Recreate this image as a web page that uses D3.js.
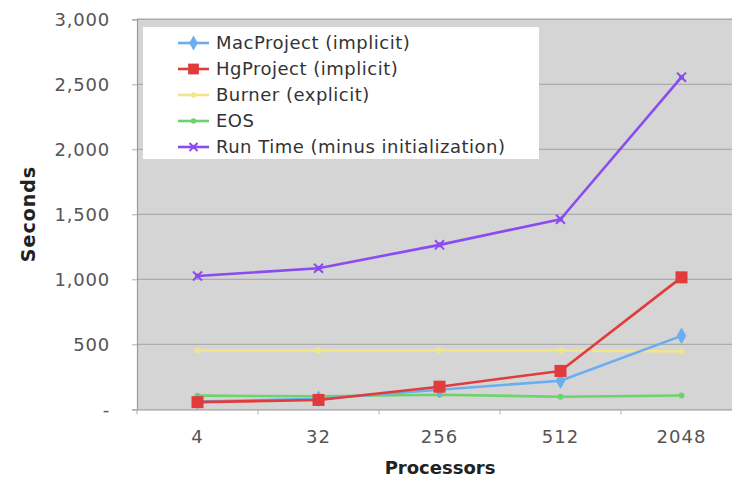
<!DOCTYPE html>
<html>
<head>
<meta charset="utf-8">
<script src="https://cdn.jsdelivr.net/npm/d3@7"></script>
<style>
  html, body { margin: 0; padding: 0; background: #fff; }
  svg { display: block; font-family: "DejaVu Sans", Verdana, sans-serif; }
</style>
</head>
<body>
<svg id="chart" width="732" height="480"></svg>
<script>
// Processor counts on the x axis
const processors = ["4", "32", "256", "512", "2048"];

// Seconds per component
const macProject = [60, 80, 150, 220, 565];
const hgProject = [55, 72, 174, 295, 1015];
const burner = [452, 452, 452, 452, 445];
const eos = [105, 100, 112, 97, 106];
const runTime = [1025, 1085, 1265, 1462, 2555];

const seriesNames = [
  "MacProject (implicit)",
  "HgProject (implicit)",
  "Burner (explicit)",
  "EOS",
  "Run Time (minus initialization)"
];
const seriesColors = ["#6aaef2", "#e23b3b", "#f3e48a", "#6cd46c", "#8a4bf0"];
const seriesMarkers = ["diamond", "square", "dot", "dot", "star"];
const seriesValues = [macProject, hgProject, burner, eos, runTime];

const yTicks = [0, 500, 1000, 1500, 2000, 2500, 3000];

const svg = d3.select("#chart");
const plot = { left: 137, top: 19.3, right: 742, bottom: 409.3 };

const x = d3.scaleBand().domain(processors).range([plot.left, plot.right]);
const y = d3.scaleLinear().domain([0, 3000]).range([plot.bottom, plot.top]);

// Plot background
svg.append("rect")
  .attr("x", plot.left).attr("y", plot.top - 1)
  .attr("width", plot.right - plot.left).attr("height", plot.bottom - plot.top + 1)
  .attr("fill", "#d5d5d5");

// Horizontal gridlines
svg.append("g")
  .selectAll("line")
  .data(yTicks.filter(d => d > 0))
  .join("line")
  .attr("x1", plot.left).attr("x2", plot.right)
  .attr("y1", d => y(d)).attr("y2", d => y(d))
  .attr("stroke", "#acacac").attr("stroke-width", 1.2);

// Y axis
const fmt = d => d === 0 ? "-" : d3.format(",")(d);
const yAxis = svg.append("g")
  .attr("transform", `translate(${plot.left},0)`)
  .call(d3.axisLeft(y).tickValues(yTicks).tickFormat(fmt).tickSize(5).tickPadding(22));
yAxis.select(".domain").attr("stroke", "#9a9a9a").attr("stroke-width", 1.2);
yAxis.selectAll(".tick line").attr("stroke", "#b0b0b0");
yAxis.selectAll(".tick text")
  .attr("fill", "#555").attr("font-size", 18).attr("letter-spacing", 0.8)
  .attr("font-family", "DejaVu Sans, Verdana, sans-serif");

// X axis with ticks on the band boundaries
const xAxis = svg.append("g")
  .attr("transform", `translate(0,${plot.bottom})`)
  .call(d3.axisBottom(x).tickSize(0).tickPadding(21));
xAxis.select(".domain").attr("stroke", "#9a9a9a").attr("stroke-width", 1.2);
xAxis.selectAll(".tick text")
  .attr("fill", "#555").attr("font-size", 18).attr("letter-spacing", 1)
  .attr("font-family", "DejaVu Sans, Verdana, sans-serif");
svg.append("g")
  .selectAll("line")
  .data(processors)
  .join("line")
  .attr("x1", d => x(d)).attr("x2", d => x(d))
  .attr("y1", plot.bottom).attr("y2", plot.bottom + 5)
  .attr("stroke", "#b0b0b0");

// Axis titles
svg.append("text")
  .attr("x", 440).attr("y", 474)
  .attr("text-anchor", "middle")
  .attr("font-size", 18).attr("font-weight", "bold").attr("fill", "#222")
  .text("Processors");
svg.append("text")
  .attr("transform", "translate(35,214) rotate(-90)")
  .attr("text-anchor", "middle")
  .attr("font-size", 19).attr("font-weight", "bold").attr("fill", "#222")
  .attr("letter-spacing", 1)
  .text("Seconds");

// Marker drawing
function drawMarker(g, type, color, cx, cy, scale) {
  const s = scale || 1;
  if (type === "square") {
    g.append("rect")
      .attr("x", cx - 6 * s).attr("y", cy - 6 * s)
      .attr("width", 12 * s).attr("height", 12 * s)
      .attr("fill", color);
  } else if (type === "diamond") {
    g.append("path")
      .attr("d", d3.symbol(d3.symbolDiamond, 80 * s * s)())
      .attr("transform", `translate(${cx},${cy})`)
      .attr("fill", color);
  } else if (type === "dot") {
    g.append("circle")
      .attr("cx", cx).attr("cy", cy).attr("r", 3 * s)
      .attr("fill", color);
  } else if (type === "star") {
    g.append("path")
      .attr("d", d3.symbol(d3.symbolX, 55 * s * s)())
      .attr("transform", `translate(${cx},${cy})`)
      .attr("fill", "none").attr("stroke", color).attr("stroke-width", 2);
    g.append("circle")
      .attr("cx", cx).attr("cy", cy).attr("r", 2.5 * s)
      .attr("fill", color);
  }
}

// Series lines and markers (Run Time drawn last so it sits on top)
const line = d3.line()
  .x((d, i) => x(processors[i]) + x.bandwidth() / 2)
  .y(d => y(d));

const order = [2, 3, 0, 1, 4];
order.forEach(k => {
  const g = svg.append("g");
  g.append("path")
    .datum(seriesValues[k])
    .attr("d", line)
    .attr("fill", "none")
    .attr("stroke", seriesColors[k])
    .attr("stroke-width", 2.6)
    .attr("stroke-linejoin", "round");
  seriesValues[k].forEach((v, i) => {
    drawMarker(g, seriesMarkers[k], seriesColors[k],
      x(processors[i]) + x.bandwidth() / 2, y(v));
  });
});

// Legend
const legend = svg.append("g");
legend.append("rect")
  .attr("x", 143).attr("y", 27).attr("width", 396).attr("height", 132)
  .attr("fill", "#fff");
seriesNames.forEach((name, i) => {
  const ly = 43 + i * 26;
  legend.append("line")
    .attr("x1", 178).attr("x2", 209).attr("y1", ly).attr("y2", ly)
    .attr("stroke", seriesColors[i]).attr("stroke-width", 2.6);
  drawMarker(legend, seriesMarkers[i], seriesColors[i], 193.5, ly, 0.9);
  legend.append("text")
    .attr("x", 216).attr("y", ly)
    .attr("dy", "0.35em")
    .attr("font-size", 18).attr("letter-spacing", 0.5).attr("fill", "#333")
    .text(name);
});
</script>
</body>
</html>
